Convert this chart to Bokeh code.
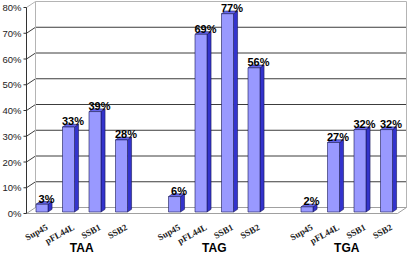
from bokeh.plotting import figure
from bokeh.models import Range1d
from bokeh.core.properties import value
from bokeh.embed import file_html
from bokeh.resources import INLINE

# ---- data ----
groups = ["TAA", "TAG", "TGA"]
constructs = ["Sup45", "pFL44L", "SSB1", "SSB2"]
taa = [3, 33, 39, 28]
tag = [6, 69, 77, 56]
tga = [2, 27, 32, 32]
y_ticks = [0, 10, 20, 30, 40, 50, 60, 70, 80]
y_tick_labels = ["0%", "10%", "20%", "30%", "40%", "50%", "60%", "70%", "80%"]
series = [taa, tag, tga]

# ---- layout (pixels) ----
W, H = 407, 256
X0, X1 = 26, 397          # front plane left / right (canvas px)
Y0, Y80 = 213, 7          # 0% and 80% on front plane (canvas px)
NSLOT = 14
sx = (X1 - X0) / NSLOT    # px per slot
sy = (Y0 - Y80) / 80.0    # px per percent
DX, DY = 9 / sx, 6 / sy   # wall depth in data units
F1, F2 = 0.25, 0.7        # bar front/back depth fraction
YMAX = 80

p = figure(width=W, height=H, x_range=Range1d(-X0 / sx, (W - X0) / sx),
           y_range=Range1d(-(H - Y0) / sy, Y0 / sy),
           x_axis_location=None, y_axis_location=None,
           toolbar_location=None, output_backend="svg", min_border=0)
p.min_border_left = p.min_border_right = p.min_border_top = p.min_border_bottom = 0
p.grid.visible = False
p.outline_line_color = None
p.background_fill_color = "white"

# walls
p.patch([DX, NSLOT + DX, NSLOT + DX, DX], [DY, DY, YMAX + DY, YMAX + DY],
        fill_color="white", line_color=None)
grid_x, grid_y = [], []
for t in y_ticks[1:-1]:
    grid_x.append([0, DX, NSLOT + DX])
    grid_y.append([t, t + DY, t + DY])
p.multi_line(grid_x, grid_y, line_color="#3c3c3c", line_width=1)
p.line([0, DX, NSLOT + DX, NSLOT + DX], [YMAX, YMAX + DY, YMAX + DY, DY],
       line_color="#b4b4b4", line_width=1)
p.line([DX, DX], [DY, YMAX + DY], line_color="#b4b4b4", line_width=1)
# floor
p.patch([0, NSLOT, NSLOT + DX, DX], [0, 0, DY, DY], fill_color="white",
        line_color="#a0a0a0", line_width=1)
# front axis + ticks
p.line([0, 0], [0, YMAX], line_color="#333333", line_width=1)
p.segment(x0=[-3 / sx] * len(y_ticks), y0=y_ticks, x1=[0] * len(y_ticks), y1=y_ticks,
          line_color="#333333", line_width=1)
p.text(x=[-5 / sx] * len(y_ticks), y=y_ticks, text=y_tick_labels,
       text_align="right", text_baseline="middle", text_font=value("Liberation Sans"),
       text_font_size="9.5px", text_color="#222222")

# bars
bw = 12 / sx
ddx, ddy = (F2 - F1) * DX, (F2 - F1) * DY
L, R, B, T = [], [], [], []
sxs, sys_, txs, tys = [], [], [], []
lx, ly, lt = [], [], []
cx, cy, ct = [], [], []
for g, vals in enumerate(series):
    for j, v in enumerate(vals):
        c = 5 * g + j + 0.5
        x0 = c - bw / 2 + F1 * DX
        x1 = x0 + bw
        yb = F1 * DY
        yt = v + F1 * DY
        L.append(x0); R.append(x1); B.append(yb); T.append(yt)
        sxs.append([x1, x1 + ddx, x1 + ddx, x1])
        sys_.append([yb, yb + ddy, yt + ddy, yt])
        txs.append([x0, x1, x1 + ddx, x0 + ddx])
        tys.append([yt, yt, yt + ddy, yt + ddy])
        fc = (x0 + x1) / 2
        lx.append(fc + 4.5 / sx); ly.append(yt + ddy + 3 / sy); lt.append(f"{v}%")
        cx.append(fc + 5 / sx); cy.append(-13 / sy); ct.append(constructs[j])

p.patches(sxs, sys_, fill_color="#3333CC", line_color="#1a1a55", line_width=0.6)
p.patches(txs, tys, fill_color="#6666EE", line_color="#1a1a55", line_width=0.6)
p.quad(left=L, right=R, bottom=B, top=T, fill_color="#9999FF",
       line_color="#1a1a55", line_width=0.6)

p.text(x=lx, y=ly, text=lt, text_align="center", text_baseline="alphabetic",
       text_font=value("Liberation Sans"), text_font_style="bold",
       text_font_size="11px", text_color="black")
p.text(x=cx, y=cy, text=ct, angle=0.5, text_align="right", text_baseline="middle",
       text_font=value("Liberation Serif"), text_font_style="bold",
       text_font_size="9px", text_color="#222222")
gx = [5 * g + 2 + F1 * DX for g in range(len(groups))]
p.text(x=gx, y=[-(247 - Y0) / sy] * len(groups), text=groups, text_align="center",
       text_baseline="alphabetic", text_font=value("Liberation Sans"),
       text_font_style="bold", text_font_size="12px", text_color="black")

open("out.html", "w").write(file_html(p, INLINE))
